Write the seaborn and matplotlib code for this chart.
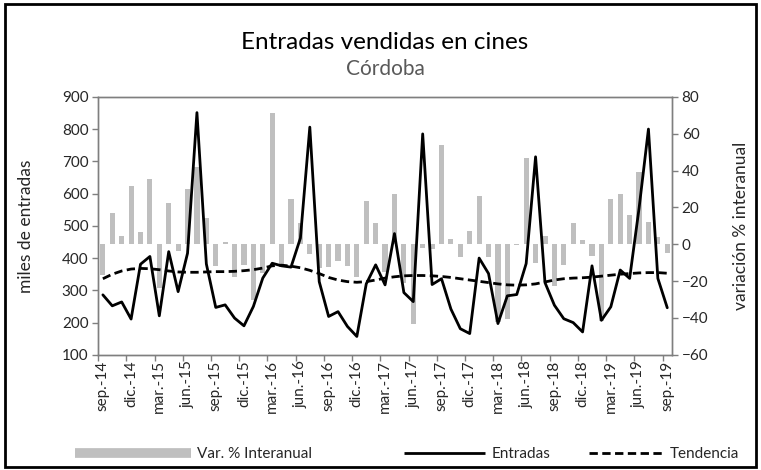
import numpy as np
import pandas as pd
import matplotlib
matplotlib.use("Agg")
import matplotlib.pyplot as plt
import seaborn as sns
from matplotlib.lines import Line2D
from matplotlib.patches import Rectangle

# Monthly series, sep-2014 .. sep-2019
mes_abrev = ["ene.", "feb.", "mar.", "abr.", "may.", "jun.",
             "jul.", "ago.", "sep.", "oct.", "nov.", "dic."]
periodos = [f"{mes_abrev[(8 + k) % 12]}-{14 + (8 + k) // 12}" for k in range(61)]

# thousands of tickets sold
entradas = [286, 252, 264, 211, 381, 405, 221, 420, 296, 415, 851, 382,
            247, 255, 214, 190, 250, 338, 384, 376, 372, 462, 806, 327,
            219, 234, 188, 157, 320, 379, 317, 476, 293, 265, 785, 318,
            336, 242, 181, 166, 400, 352, 197, 283, 287, 383, 714, 324,
            254, 212, 200, 171, 376, 207, 249, 363, 337, 554, 800, 337,
            246]

# year-on-year change, %
var_interanual = [-16.6, 17.2, 4.6, 31.7, 6.6, 35.3, -23.8, 22.3, -3.4, 30.1, 42.0, 14.5,
                  -11.7, 1.0, -17.5, -11.2, -30.0, -15.7, 71.0, -11.2, 24.3, 11.5, -5.4, -13.0,
                  -12.3, -9.2, -11.8, -17.7, 23.7, 11.4, -15.0, 27.1, -21.0, -43.4, -2.0, -2.5,
                  53.7, 3.1, -6.9, 7.1, 26.0, -6.8, -42.0, -40.6, -0.5, 46.8, -10.0, 4.5,
                  -22.8, -11.1, 11.4, 2.2, -6.3, -41.5, 24.4, 27.1, 15.8, 39.4, 12.2, 4.0,
                  -4.9]

# trend component, thousands
tendencia = [336, 350, 360, 366, 368, 367, 364, 360, 357, 356, 356, 357,
             358, 358, 359, 361, 364, 369, 376, 378, 375, 370, 362, 352,
             340, 332, 327, 325, 327, 332, 338, 342, 345, 346, 346, 345,
             343, 340, 336, 332, 328, 324, 320, 317, 316, 317, 320, 326,
             332, 336, 338, 339, 341, 344, 347, 350, 352, 354, 355, 355,
             353]

df = pd.DataFrame({
    "pos": np.arange(len(periodos)),
    "periodo": periodos,
    "entradas": entradas,
    "var": var_interanual,
    "tendencia": tendencia,
})

sns.set_theme(style="white")
plt.rcParams["font.family"] = ["Lato", "DejaVu Sans"]

AXIS_GREY = "#7f7f7f"
BAR_GREY = "#bfbfbf"
DASH = (0, (3.0, 1.6))

fig = plt.figure(figsize=(7.61, 4.70), dpi=100)
ax = fig.add_axes([0.129, 0.245, 0.754, 0.549])
ax2 = ax.twinx()

# bars on the secondary (right) axis
sns.barplot(data=df, x="pos", y="var", ax=ax2, color=BAR_GREY,
            native_scale=True, width=0.55, saturation=1, linewidth=0)

# lines on the primary (left) axis
sns.lineplot(data=df, x="pos", y="entradas", ax=ax, color="black",
             linewidth=2.0, estimator=None, sort=False)
sns.lineplot(data=df, x="pos", y="tendencia", ax=ax, color="black",
             linewidth=2.0, estimator=None, sort=False, dashes=False,
             linestyle=DASH)

ax.set_zorder(ax2.get_zorder() + 1)
ax.patch.set_visible(False)

ax.set_xlim(-0.5, len(periodos) - 0.5)
ax.set_ylim(100, 900)
ax.set_yticks(np.arange(100, 901, 100))
ax2.set_ylim(-60, 80)
ax2.set_yticks(np.arange(-60, 81, 20))

lab_idx = np.arange(0, len(periodos), 3)
ax.set_xticks(lab_idx)
ax.set_xticklabels([periodos[i] for i in lab_idx], rotation=90)
ax.set_xticks(lab_idx - 0.5, minor=True)
ax.tick_params(axis="x", which="major", length=0, pad=4, labelsize=11)
ax.tick_params(axis="x", which="minor", length=4, width=1, color=AXIS_GREY, bottom=True)
ax.tick_params(axis="y", which="major", length=4, width=1, color=AXIS_GREY,
               left=True, labelsize=11, pad=3)
ax2.tick_params(axis="y", which="major", length=4, width=1, color=AXIS_GREY,
                right=True, labelsize=11, pad=3)

ax.set_xlabel("")
ax.set_ylabel("miles de entradas", fontsize=12.5, labelpad=20)
ax2.set_xlabel("")
ax2.set_ylabel("variación % interanual", fontsize=12.5, labelpad=18, rotation=90)

for a in (ax, ax2):
    for s in a.spines.values():
        s.set_color(AXIS_GREY)
        s.set_linewidth(1.0)
        s.set_visible(True)

fig.text(0.506, 0.91, "Entradas vendidas en cines", ha="center", va="center",
         fontsize=17.5, color="black")
fig.text(0.506, 0.853, "Córdoba", ha="center", va="center",
         fontsize=15, color="#595959")

# legend entries laid out along the bottom edge
leg_items = [
    (Line2D([], [], color=BAR_GREY, linewidth=7, solid_capstyle="butt"),
     "Var. % Interanual", 7.6, 0.098),
    (Line2D([], [], color="black", linewidth=2.0, solid_capstyle="butt"),
     "Entradas", 5.3, 0.531),
    (Line2D([], [], color="black", linewidth=2.0, linestyle=DASH, dash_capstyle="butt"),
     "Tendencia", 4.9, 0.774),
]
for h, txt, hl, x0 in leg_items:
    fig.legend([h], [txt], loc="center left", bbox_to_anchor=(x0, 0.033),
               frameon=False, fontsize=11, handlelength=hl, handletextpad=0.4,
               borderpad=0, borderaxespad=0)

fig.patches.append(Rectangle((0.006, 0.006), 0.988, 0.986, transform=fig.transFigure,
                             fill=False, edgecolor="black", linewidth=2.0))

fig.savefig("out.png", dpi=100)
